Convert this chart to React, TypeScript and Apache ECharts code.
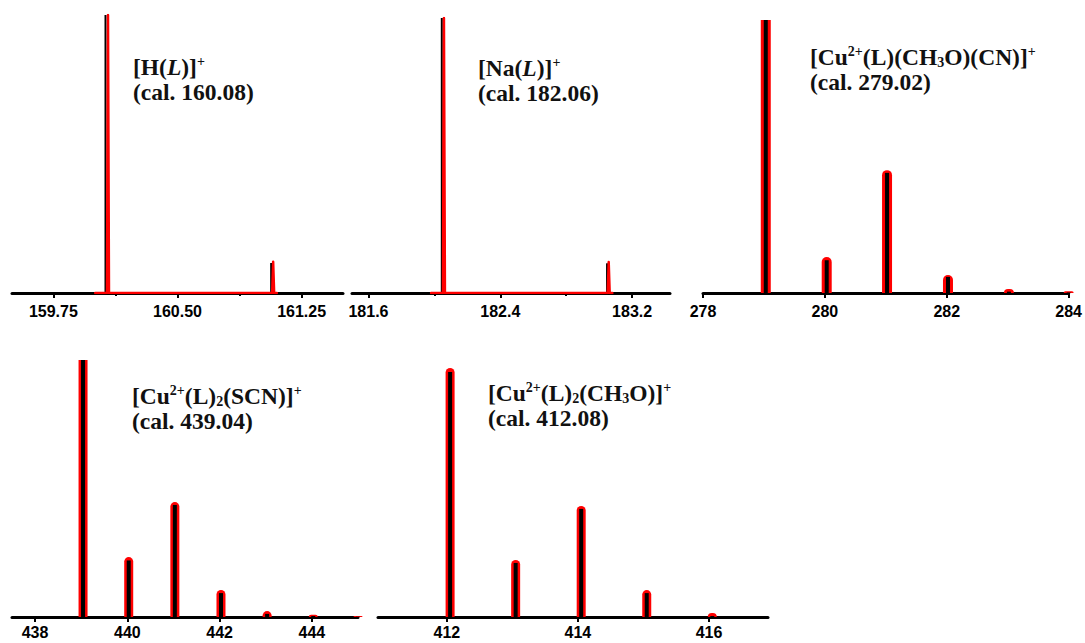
import React, { useEffect, useRef } from "react";
import * as echarts from "echarts";

const RED = "#ff0000";
const BLACK = "#000000";
const SERIF = "'Liberation Serif', 'Times New Roman', serif";
const SANS = "'Liberation Sans', Arial, sans-serif";

// ---- Panel 1: [H(L)]+ ----
const p1Range = [159.5, 161.5];
const p1Ticks = [159.75, 160.5, 161.25];
const p1Minor = [160.125, 160.875];
const p1SimMz = [160.065, 161.066];
const p1SimInt = [100, 10.8];
const p1ExpMz = [160.003, 160.074, 160.08, 160.086, 161.072, 161.078, 161.084, 161.1];
const p1ExpInt = [0, 0, 100, 0, 0, 11.2, 0, 0];

// ---- Panel 2: [Na(L)]+ ----
const p2Range = [181.5, 183.43];
const p2Ticks = [181.6, 182.4, 183.2];
const p2Minor = [182.0, 182.8];
const p2SimMz = [182.045, 183.048];
const p2SimInt = [100, 10.8];
const p2ExpMz = [181.98, 182.052, 182.058, 182.064, 183.052, 183.058, 183.064, 183.08];
const p2ExpInt = [0, 0, 100, 0, 0, 11.3, 0, 0];

// ---- Panel 3: [Cu2+(L)(CH3O)(CN)]+ ----
const p3Range = [278, 284];
const p3Ticks = [278, 280, 282, 284];
const p3Mz = [279.03, 280.03, 281.02, 282.02, 283.02, 284.0];
const p3Exp = [102, 13.2, 45.0, 6.6, 1.5, 0.6];
const p3Sim = [102, 12.0, 44.0, 5.9, 0.5, 0.2];

// ---- Panel 4: [Cu2+(L)2(SCN)]+ ----
const p4Range = [437.5, 445];
const p4Ticks = [438, 440, 442, 444];
const p4Mz = [439.04, 440.03, 441.03, 442.03, 443.03, 444.03, 445.0];
const p4Exp = [102, 23.3, 44.7, 10.5, 2.3, 0.9, 0.4];
const p4Sim = [102, 22.0, 43.6, 9.3, 1.2, 0.4, 0.1];

// ---- Panel 5: [Cu2+(L)2(CH3O)]+ ----
const p5Range = [410.95, 416.9];
const p5Ticks = [412, 414, 416];
const p5Mz = [412.05, 413.05, 414.05, 415.05, 416.05];
const p5Exp = [100, 22.9, 44.6, 10.8, 1.6];
const p5Sim = [98.4, 21.7, 43.4, 9.6, 0.4];

const labels = [
  "[H({i|L})]{sup|+}\n(cal. 160.08)",
  "[Na({i|L})]{sup|+}\n(cal. 182.06)",
  "[Cu{sup|2+}(L)(CH{sub|3}O)(CN)]{sup|+}\n(cal. 279.02)",
  "[Cu{sup|2+}(L){sub|2}(SCN)]{sup|+}\n(cal. 439.04)",
  "[Cu{sup|2+}(L){sub|2}(CH{sub|3}O)]{sup|+}\n(cal. 412.08)",
];

const zip = (a: number[], b: number[]) => a.map((v, i) => [v, b[i]]);

export default function App() {
  const ref = useRef<HTMLDivElement>(null);
  useEffect(() => {
    if (!ref.current) return;
    const chart = echarts.init(ref.current, undefined, { renderer: "svg" });

    const grids = [
      { left: 12, top: 15, width: 331, height: 278 },
      { left: 352, top: 18, width: 318, height: 275 },
      { left: 703, top: 20, width: 368, height: 273 },
      { left: 12, top: 360, width: 346, height: 257 },
      { left: 378, top: 368, width: 390, height: 249 },
    ];
    const ranges = [p1Range, p2Range, p3Range, p4Range, p5Range];
    const ticks = [p1Ticks, p2Ticks, p3Ticks, p4Ticks, p5Ticks];
    const minors: (number[] | null)[] = [p1Minor, p2Minor, null, null, null];
    const fmts = [
      (v: number) => v.toFixed(2),
      (v: number) => v.toFixed(1),
      (v: number) => String(Math.round(v)),
      (v: number) => String(Math.round(v)),
      (v: number) => String(Math.round(v)),
    ];
    const margins = [10, 10, 10, 7, 7];

    const xAxis: any[] = [];
    const yAxis: any[] = [];
    grids.forEach((g, i) => {
      xAxis.push({
        type: "value",
        gridIndex: i,
        position: "bottom",
        min: ranges[i][0],
        max: ranges[i][1],
        axisLine: { show: true, lineStyle: { color: BLACK, width: 3 } },
        axisTick: {
          show: true,
          inside: false,
          length: 5,
          lineStyle: { color: BLACK, width: 2 },
          customValues: ticks[i],
        },
        axisLabel: {
          show: true,
          margin: margins[i],
          color: BLACK,
          fontFamily: SANS,
          fontWeight: "bold",
          fontSize: 16,
          customValues: ticks[i],
          formatter: fmts[i],
        },
        splitLine: { show: false },
      });
      xAxis.push({
        type: "value",
        gridIndex: i,
        position: "bottom",
        min: ranges[i][0],
        max: ranges[i][1],
        axisLine: { show: false },
        axisTick: minors[i]
          ? {
              show: true,
              inside: false,
              length: 3,
              lineStyle: { color: BLACK, width: 2 },
              customValues: minors[i],
            }
          : { show: false },
        axisLabel: { show: false },
        splitLine: { show: false },
      });
      yAxis.push({
        type: "value",
        gridIndex: i,
        min: 0,
        max: 100,
        show: false,
      });
    });

    const series: any[] = [];
    // Panels 1 & 2: black stick under red trace
    const narrow = [
      { sm: p1SimMz, si: p1SimInt, em: p1ExpMz, ei: p1ExpInt },
      { sm: p2SimMz, si: p2SimInt, em: p2ExpMz, ei: p2ExpInt },
    ];
    narrow.forEach((p, i) => {
      series.push({
        type: "bar",
        xAxisIndex: 2 * i + 1,
        yAxisIndex: i,
        barWidth: 2,
        itemStyle: { color: BLACK },
        z: 3,
        data: zip(p.sm, p.si),
      });
      series.push({
        type: "line",
        xAxisIndex: 2 * i,
        yAxisIndex: i,
        showSymbol: false,
        symbol: "none",
        lineStyle: { color: RED, width: 2.5, join: "round", cap: "round" },
        z: 4,
        data: zip(p.em, p.ei),
      });
    });
    // Panels 3-5: red bars with black sticks on top
    const wide = [
      { mz: p3Mz, ex: p3Exp, si: p3Sim, w: 10 },
      { mz: p4Mz, ex: p4Exp, si: p4Sim, w: 9 },
      { mz: p5Mz, ex: p5Exp, si: p5Sim, w: 9 },
    ];
    wide.forEach((p, k) => {
      const i = k + 2;
      series.push({
        type: "bar",
        xAxisIndex: 2 * i,
        yAxisIndex: i,
        barWidth: p.w,
        itemStyle: { color: RED, borderRadius: [5, 5, 0, 0] },
        z: 3,
        data: p.mz.map((m, j) =>
          p.ex[j] > 100
            ? { value: [m, p.ex[j]], itemStyle: { borderRadius: 0 } }
            : { value: [m, p.ex[j]] }
        ),
      });
      series.push({
        type: "bar",
        xAxisIndex: 2 * i + 1,
        yAxisIndex: i,
        barWidth: 4,
        itemStyle: { color: BLACK },
        z: 4,
        data: zip(p.mz, p.si),
      });
    });

    const textPos = [
      [133, 54],
      [478, 55],
      [810, 44],
      [132, 383],
      [488, 380],
    ];
    const rich = {
      sup: {
        fontSize: 14,
        lineHeight: 15,
        verticalAlign: "top",
        fontWeight: "bold",
        fontFamily: SERIF,
        fill: "#111",
      },
      sub: {
        fontSize: 14,
        lineHeight: 14,
        verticalAlign: "bottom",
        fontWeight: "bold",
        fontFamily: SERIF,
        fill: "#111",
      },
      i: {
        fontSize: 23.5,
        lineHeight: 25,
        fontStyle: "italic",
        fontWeight: "bold",
        fontFamily: SERIF,
        fill: "#111",
      },
    };
    const graphic = labels.map((t, i) => ({
      type: "text",
      x: textPos[i][0],
      y: textPos[i][1],
      z: 10,
      style: {
        text: t,
        fill: "#111",
        fontSize: 23.5,
        fontWeight: "bold",
        fontFamily: SERIF,
        lineHeight: 25,
        align: "left",
        verticalAlign: "top",
        rich,
      },
    }));

    chart.setOption({
      animation: false,
      backgroundColor: "#ffffff",
      grid: grids.map((g) => ({ ...g, containLabel: false })),
      xAxis,
      yAxis,
      series,
      graphic,
    });
    return () => chart.dispose();
  }, []);

  return (
    <div
      ref={ref}
      style={{ position: "fixed", left: 0, top: 0, width: 1085, height: 643, background: "#fff" }}
    />
  );
}
